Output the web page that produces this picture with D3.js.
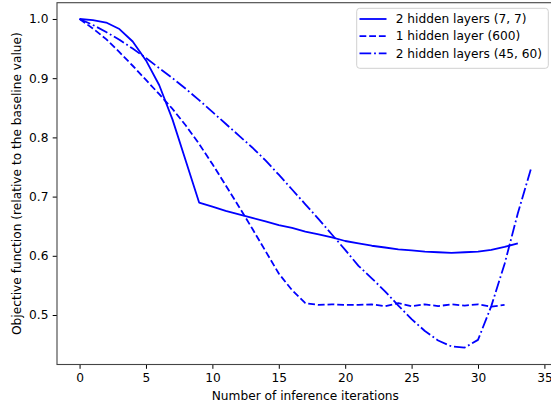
<!DOCTYPE html>
<html>
<head>
<meta charset="utf-8">
<script src="https://cdn.jsdelivr.net/npm/d3@7"></script>
<style>
  html, body { margin: 0; padding: 0; background: #fff; }
  svg { display: block; }
  text { font-family: "DejaVu Sans", sans-serif; fill: #000; }
</style>
</head>
<body>
<svg id="chart" width="551" height="409"></svg>
<script>
// Objective function vs. number of inference iterations, three network sizes
const iterSolid = d3.range(0, 34);
const valuesSolid = [
  1.000, 0.998, 0.994, 0.983, 0.962, 0.930, 0.888, 0.830, 0.760, 0.690,
  0.683, 0.676, 0.670, 0.664, 0.658, 0.652, 0.647, 0.641, 0.636, 0.631,
  0.625, 0.621, 0.617, 0.614, 0.611, 0.609, 0.607, 0.606, 0.605, 0.606,
  0.607, 0.610, 0.615, 0.621
];
const iterDashed = d3.range(0, 33);
const valuesDashed = [
  1.000, 0.984, 0.966, 0.944, 0.921, 0.897, 0.873, 0.848, 0.820, 0.789,
  0.755, 0.719, 0.683, 0.646, 0.608, 0.570, 0.542, 0.520, 0.517, 0.518,
  0.517, 0.517, 0.518, 0.515, 0.520, 0.515, 0.518, 0.515, 0.518, 0.516,
  0.518, 0.514, 0.517
];
const iterDashDot = d3.range(0, 35);
const valuesDashDot = [
  1.000, 0.990, 0.978, 0.965, 0.950, 0.934, 0.917, 0.900, 0.882, 0.863,
  0.843, 0.823, 0.803, 0.783, 0.761, 0.737, 0.712, 0.687, 0.662, 0.636,
  0.610, 0.583, 0.562, 0.540, 0.516, 0.493, 0.473, 0.457, 0.447, 0.445,
  0.458, 0.515, 0.586, 0.672, 0.748
];
const seriesNames = ["2 hidden layers (7, 7)", "1 hidden layer (600)", "2 hidden layers (45, 60)"];
const xTicks = [0, 5, 10, 15, 20, 25, 30, 35];
const yTicks = [0.5, 0.6, 0.7, 0.8, 0.9, 1.0];
const xLabel = "Number of inference iterations";
const yLabel = "Objective function (relative to the baseline value)";

const series = [
  { name: seriesNames[0], xs: iterSolid, ys: valuesSolid, dash: null },
  { name: seriesNames[1], xs: iterDashed, ys: valuesDashed, dash: "6.8,2.9" },
  { name: seriesNames[2], xs: iterDashDot, ys: valuesDashDot, dash: "11.7,2.9,1.8,2.9" }
];

const plot = { left: 57, top: 2.7, right: 553.7, bottom: 364.5 };
const fontSize = 12.2;
const tickLen = 4.3;
const lineColor = "#0000ff";

const svg = d3.select("#chart");

const x = d3.scaleLinear().domain([-1.7, 35.7]).range([plot.left, plot.right]);
const y = d3.scaleLinear().domain([0.4164, 1.0275]).range([plot.bottom, plot.top]);

// data lines
const line = d3.line().x(d => x(d[0])).y(d => y(d[1]));
svg.append("g")
  .selectAll("path")
  .data(series)
  .join("path")
    .attr("d", s => line(s.xs.map((v, i) => [v, s.ys[i]])))
    .attr("fill", "none")
    .attr("stroke", lineColor)
    .attr("stroke-width", 1.8)
    .attr("stroke-linejoin", "round")
    .attr("stroke-dasharray", s => s.dash);

// axes
const xAxis = d3.axisBottom(x).tickValues(xTicks).tickFormat(d3.format("d"))
  .tickSizeInner(tickLen).tickSizeOuter(0).tickPadding(4.3);
const yAxis = d3.axisLeft(y).tickValues(yTicks).tickFormat(d3.format(".1f"))
  .tickSizeInner(tickLen).tickSizeOuter(0).tickPadding(4.3);

const gx = svg.append("g").attr("transform", `translate(0,${plot.bottom})`).call(xAxis);
const gy = svg.append("g").attr("transform", `translate(${plot.left},0)`).call(yAxis);
[gx, gy].forEach(g => {
  g.select(".domain").remove();
  g.selectAll(".tick line").attr("stroke", "#000").attr("stroke-width", 1);
  g.selectAll(".tick text")
    .attr("font-family", "DejaVu Sans, sans-serif")
    .attr("font-size", fontSize)
    .attr("fill", "#000");
});

// frame
svg.append("rect")
  .attr("x", plot.left).attr("y", plot.top)
  .attr("width", plot.right - plot.left).attr("height", plot.bottom - plot.top)
  .attr("fill", "none").attr("stroke", "#444").attr("stroke-width", 1.1);

// axis titles
svg.append("text")
  .attr("x", (plot.left + plot.right) / 2)
  .attr("y", 399.5)
  .attr("text-anchor", "middle")
  .attr("font-size", fontSize)
  .text(xLabel);
svg.append("text")
  .attr("transform", `translate(20.5,${(plot.top + plot.bottom) / 2}) rotate(-90)`)
  .attr("text-anchor", "middle")
  .attr("font-size", fontSize)
  .text(yLabel);

// legend
const legend = svg.append("g");
legend.append("rect")
  .attr("x", 356.7).attr("y", 8.3)
  .attr("width", 191.6).attr("height", 60)
  .attr("rx", 3).attr("ry", 3)
  .attr("fill", "#fff").attr("fill-opacity", 0.8)
  .attr("stroke", "#d0d0d0").attr("stroke-width", 1);
const rows = legend.selectAll("g.row")
  .data(series)
  .join("g")
    .attr("class", "row")
    .attr("transform", (d, i) => `translate(0,${19 + i * 17.2})`);
rows.append("line")
  .attr("x1", 359.5).attr("x2", 386.5)
  .attr("stroke", lineColor)
  .attr("stroke-width", 1.8)
  .attr("stroke-dasharray", s => s.dash);
rows.append("text")
  .attr("x", 395.7)
  .attr("dy", "0.35em")
  .attr("font-size", fontSize)
  .text(s => s.name);
</script>
</body>
</html>
